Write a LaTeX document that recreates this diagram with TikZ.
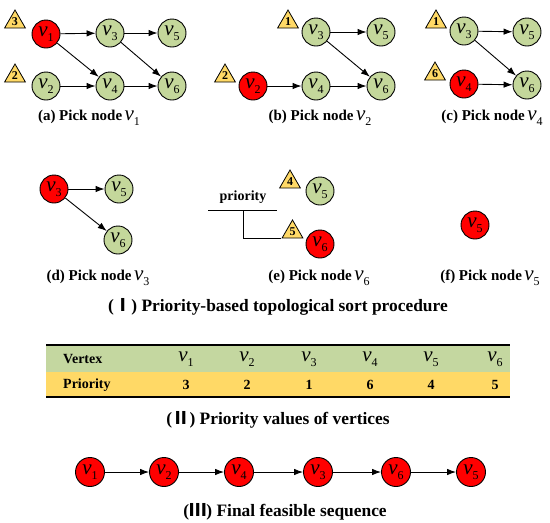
\documentclass[tikz,border=0pt]{standalone}
\usepackage{fontspec}
\setmainfont{Liberation Serif}
\newfontfamily\cjk{Noto Sans CJK SC}
\usetikzlibrary{shapes.geometric,arrows.meta}
\definecolor{ngreen}{RGB}{196,215,155}
\definecolor{nred}{RGB}{255,0,0}
\definecolor{tyellow}{RGB}{255,217,102}
\definecolor{tabgreen}{RGB}{196,215,160}
\newcommand\vlab[1]{{\fontsize{21}{21}\selectfont\mdseries\itshape v}\raisebox{-4.5pt}{\fontsize{12}{12}\selectfont\mdseries\upshape #1}}
\begin{document}
\begin{tikzpicture}[x=1pt,y=-1pt,
  vnode/.style={circle,draw=black,line width=0.9pt,minimum size=28pt,inner sep=0pt,fill=ngreen},
  rnode/.style={vnode,fill=nred},
  tri/.style={regular polygon,regular polygon sides=3,draw=black,line width=0.8pt,fill=tyellow,minimum size=24pt,inner sep=0pt,font=\fontsize{12}{12}\selectfont\bfseries},
  arr/.style={-{Latex[length=9pt,width=6.5pt]},line width=0.9pt},
  capt/.style={font=\fontsize{15}{15}\selectfont\bfseries,inner sep=0pt},
  bigcapt/.style={font=\fontsize{17.4}{17.4}\selectfont\bfseries,inner sep=0pt},
  tabt/.style={font=\fontsize{14}{14}\selectfont\bfseries,inner sep=0pt},
  plain/.style={line width=1pt}
]
\useasboundingbox (0,0) rectangle (550,523);

% ---------- (a)
\node[rnode] (a1) at (46,34) {\vlab{1}};
\node[vnode] (a3) at (110,33) {\vlab{3}};
\node[vnode] (a5) at (172,33) {\vlab{5}};
\node[vnode] (a2) at (46,86) {\vlab{2}};
\node[vnode] (a4) at (110,86) {\vlab{4}};
\node[vnode] (a6) at (172,86) {\vlab{6}};
\node[tri] (at3) at (15,22) {3};
\node[tri] (at2) at (15,76) {2};
\draw[arr] (a1) -- (a3);
\draw[arr] (a1) -- (a4);
\draw[arr] (a3) -- (a5);
\draw[arr] (a3) -- (a6);
\draw[arr] (a2) -- (a4);
\draw[arr] (a4) -- (a6);
\node[capt] (capa) at (89,118) {(a) Pick node\,\vlab{1}};

% ---------- (b)
\node[vnode] (b3) at (316,32) {\vlab{3}};
\node[vnode] (b5) at (381,32) {\vlab{5}};
\node[rnode] (b2) at (253,86) {\vlab{2}};
\node[vnode] (b4) at (316,86) {\vlab{4}};
\node[vnode] (b6) at (381,86) {\vlab{6}};
\node[tri] (bt1) at (288,22) {1};
\node[tri] (bt2) at (225,76) {2};
\draw[arr] (b3) -- (b5);
\draw[arr] (b3) -- (b6);
\draw[arr] (b2) -- (b4);
\draw[arr] (b4) -- (b6);
\node[capt] (capb) at (320,118) {(b) Pick node\,\vlab{2}};

% ---------- (c)
\node[vnode] (c3) at (464,31) {\vlab{3}};
\node[vnode] (c5) at (527,32) {\vlab{5}};
\node[rnode] (c4) at (464,84) {\vlab{4}};
\node[vnode] (c6) at (527,85) {\vlab{6}};
\node[tri] (ct1) at (436,22) {1};
\node[tri] (ct6) at (435,74) {6};
\draw[arr] (c3) -- (c5);
\draw[arr] (c3) -- (c6);
\draw[arr] (c4) -- (c6);
\node[capt] (capc) at (492,118) {(c) Pick node\,\vlab{4}};

% ---------- (d)
\node[rnode] (d3) at (54,189) {\vlab{3}};
\node[vnode] (d5) at (119,189) {\vlab{5}};
\node[vnode] (d6) at (118,240) {\vlab{6}};
\draw[arr] (d3) -- (d5);
\draw[arr] (d3) -- (d6);
\node[capt] (capd) at (98,278) {(d) Pick node\,\vlab{3}};

% ---------- (e)
\node[vnode] (e5) at (320,191) {\vlab{5}};
\node[rnode] (e6) at (320,244) {\vlab{6}};
\node[tri] (et4) at (290,182) {4};
\node[tri] (et5) at (292.5,232) {5};
\node[tabt] (prio) at (243,197) {priority};
\coordinate (pl) at (208,210);
\coordinate (pr) at (277,210);
\coordinate (pm) at (243,210);
\draw[plain] (pl) -- (pr);
\draw[plain] (pm) |- (et5.corner 2);
\node[capt] (cape) at (319,278) {(e) Pick node\,\vlab{6}};

% ---------- (f)
\node[rnode] (f5) at (475,225) {\vlab{5}};
\node[capt] (capf) at (490,278) {(f) Pick node\,\vlab{5}};

\node[bigcapt] (title1) at (278,307) {({\cjk Ⅰ}) Priority-based topological sort procedure};

% ---------- table
\fill[tabgreen] (46,345) rectangle (510,372);
\fill[tyellow] (46,372) rectangle (510,397);
\draw[line width=1.6pt] (46,345) -- (510,345);
\draw[line width=1.6pt] (46,397) -- (510,397);
\node[tabt,anchor=west] (hv) at (63,359) {Vertex};
\node[tabt,anchor=west] (hp) at (63,385) {Priority};
\node[inner sep=0pt] (c1) at (186,359) {\vlab{1}};
\node[inner sep=0pt] (c2) at (247,359) {\vlab{2}};
\node[inner sep=0pt] (c3h) at (309,359) {\vlab{3}};
\node[inner sep=0pt] (c4h) at (370,359) {\vlab{4}};
\node[inner sep=0pt] (c5h) at (431,359) {\vlab{5}};
\node[inner sep=0pt] (c6h) at (495,359) {\vlab{6}};
\node[tabt] (p1) at (186,385) {3};
\node[tabt] (p2) at (247,385) {2};
\node[tabt] (p3) at (309,385) {1};
\node[tabt] (p4) at (370,385) {6};
\node[tabt] (p5) at (431,385) {4};
\node[tabt] (p6) at (495,385) {5};
\node[bigcapt] (title2) at (278,420) {({\cjk Ⅱ}) Priority values of vertices};

% ---------- final sequence
\node[rnode,minimum size=29pt] (s1) at (90,472) {\vlab{1}};
\node[rnode,minimum size=29pt] (s2) at (164,472) {\vlab{2}};
\node[rnode,minimum size=29pt] (s4) at (239,472) {\vlab{4}};
\node[rnode,minimum size=29pt] (s3) at (318,472) {\vlab{3}};
\node[rnode,minimum size=29pt] (s6) at (396,472) {\vlab{6}};
\node[rnode,minimum size=29pt] (s5) at (471,472) {\vlab{5}};
\draw[arr] (s1) -- (s2);
\draw[arr] (s2) -- (s4);
\draw[arr] (s4) -- (s3);
\draw[arr] (s3) -- (s6);
\draw[arr] (s6) -- (s5);
\node[bigcapt] (title3) at (285,512) {({\cjk Ⅲ}) Final feasible sequence};
\end{tikzpicture}
\end{document}
